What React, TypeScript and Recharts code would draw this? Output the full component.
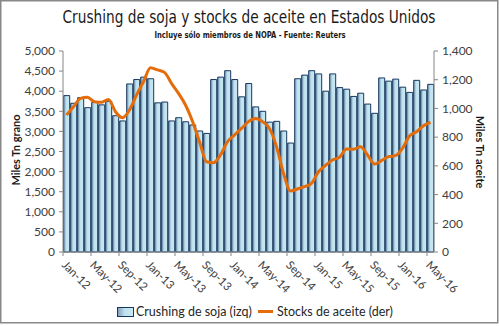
import React from 'react';
import { ComposedChart, Bar, Line, XAxis, YAxis } from 'recharts';

// monthly categories Jan-12 .. May-16
const months = [
  'Jan-12', 'Feb-12', 'Mar-12', 'Apr-12', 'May-12', 'Jun-12', 'Jul-12', 'Aug-12', 'Sep-12', 'Oct-12', 'Nov-12', 'Dec-12',
  'Jan-13', 'Feb-13', 'Mar-13', 'Apr-13', 'May-13', 'Jun-13', 'Jul-13', 'Aug-13', 'Sep-13', 'Oct-13', 'Nov-13', 'Dec-13',
  'Jan-14', 'Feb-14', 'Mar-14', 'Apr-14', 'May-14', 'Jun-14', 'Jul-14', 'Aug-14', 'Sep-14', 'Oct-14', 'Nov-14', 'Dec-14',
  'Jan-15', 'Feb-15', 'Mar-15', 'Apr-15', 'May-15', 'Jun-15', 'Jul-15', 'Aug-15', 'Sep-15', 'Oct-15', 'Nov-15', 'Dec-15',
  'Jan-16', 'Feb-16', 'Mar-16', 'Apr-16', 'May-16',
];

// crushing (left axis, miles Tn grano)
const crushing = [
  3890, 3700, 3840, 3590, 3720, 3660, 3750, 3390, 3260, 4180, 4290, 4350,
  4310, 3710, 3730, 3260, 3340, 3240, 3160, 3010, 2950, 4290, 4350, 4510,
  4290, 3860, 4190, 3610, 3500, 3230, 3250, 3010, 2710, 4310, 4400, 4510,
  4430, 4000, 4430, 4090, 4050, 3870, 3950, 3680, 3450, 4330, 4250, 4300,
  4100, 3970, 4270, 4030, 4170,
];

// oil stocks (right axis, miles Tn aceite)
const stocks = [
  954, 1012, 1070, 1077, 1047, 1043, 1063, 977, 935, 989, 1093, 1186,
  1284, 1268, 1251, 1175, 1105, 1024, 910, 768, 629, 622, 676, 768,
  815, 861, 908, 929, 908, 861, 734, 548, 425, 439, 455, 478,
  559, 603, 641, 660, 717, 715, 733, 676, 613, 636, 664, 671,
  722, 808, 838, 880, 903,
];

const leftTicks = [0, 500, 1000, 1500, 2000, 2500, 3000, 3500, 4000, 4500, 5000];
const rightTicks = [0, 200, 400, 600, 800, 1000, 1200, 1400];

const data = months.map((m, i) => ({ month: m, crushing: crushing[i], stocks: stocks[i] }));

const W = 499;
const H = 326;
const PLOT_BOTTOM = 252;
const HALF_BAND = 3.5;
const font = 'Lato, "Liberation Sans", sans-serif';
const narrow = '"DejaVu Sans Condensed", "Liberation Sans", sans-serif';

const fmt = (v: number) => v.toLocaleString('en-US');

function MonthTick({ x, payload }: any) {
  const bx = x - HALF_BAND;
  const tx = bx + 4;
  const ty = PLOT_BOTTOM + 8;
  return (
    <g>
      <line x1={bx} x2={bx} y1={PLOT_BOTTOM} y2={PLOT_BOTTOM + 4} stroke="#868686" />
      <text
        x={tx}
        y={ty}
        transform={`rotate(45, ${tx}, ${ty})`}
        textAnchor="start"
        dy="0.7em"
        fontSize={11.5}
        fontFamily={font}
        fill="#404040"
      >
        {payload.value}
      </text>
    </g>
  );
}

export default function App() {
  return (
    <div style={{ position: 'absolute', left: 0, top: 0, width: W, height: H, background: '#fff' }}>
      <svg width={W} height={H} style={{ position: 'absolute', left: 0, top: 0 }}>
        <rect x={0.75} y={0.75} width={W - 2} height={322} fill="none" stroke="#888" strokeWidth={1.5} />
        {/* condensed titles: horizontally squeezed like the original narrow face */}
        <g transform="translate(249,23) scale(0.87,1)">
          <text x={0} y={0} textAnchor="middle" fontFamily={narrow} fontSize={17.5} fill="#1a1a1a">
            Crushing de soja y stocks de aceite en Estados Unidos
          </text>
        </g>
        <g transform="translate(250,38) scale(0.8,1)">
          <text x={0} y={0} textAnchor="middle" fontFamily={narrow} fontSize={9.5} fontWeight="bold" fill="#1a1a1a">
            Incluye sólo miembros de NOPA - Fuente: Reuters
          </text>
        </g>
        <text transform="translate(20,150) rotate(-90)" textAnchor="middle" fontFamily={font} fontSize={11} fontWeight="bold" fill="#1a1a1a">
          Miles Tn grano
        </text>
        <text transform="translate(476,152) rotate(90)" textAnchor="middle" fontFamily={font} fontSize={11} fontWeight="bold" fill="#1a1a1a">
          Miles Tn aceite
        </text>
        {/* legend */}
        <defs>
          <linearGradient id="legBar" x1="0" y1="0" x2="1" y2="0">
            <stop offset="0%" stopColor="#7f9cbc" />
            <stop offset="45%" stopColor="#bfe3ee" />
            <stop offset="100%" stopColor="#c9e8f1" />
          </linearGradient>
        </defs>
        <rect x={117.5} y={307.5} width={16} height={9} fill="url(#legBar)" stroke="#17375e" />
        <text x={136} y={316} fontFamily={font} fontSize={12.5} fill="#262626">Crushing de soja (izq)</text>
        <line x1={258} x2={273} y1={311.5} y2={311.5} stroke="#e46c0a" strokeWidth={3} />
        <text x={277} y={316} fontFamily={font} fontSize={12.5} fill="#262626">Stocks de aceite (der)</text>
      </svg>
      <div style={{ position: 'absolute', left: 0, top: 0 }}>
        <ComposedChart
          width={W}
          height={H}
          data={data}
          margin={{ top: 51, right: 15, bottom: 29, left: 13 }}
          barCategoryGap="10%"
        >
          <defs>
            <linearGradient id="barFill" x1="0" y1="0" x2="1" y2="0">
              <stop offset="0%" stopColor="#7f9cbc" />
              <stop offset="45%" stopColor="#bfe3ee" />
              <stop offset="100%" stopColor="#c9e8f1" />
            </linearGradient>
          </defs>
          <XAxis
            dataKey="month"
            interval={3}
            height={45}
            tickLine={false}
            tick={<MonthTick />}
            axisLine={{ stroke: '#868686' }}
          />
          <YAxis
            yAxisId="left"
            width={50}
            domain={[0, 5000]}
            ticks={leftTicks}
            tickFormatter={fmt}
            tickSize={4}
            tickMargin={4}
            axisLine={{ stroke: '#868686' }}
            tickLine={{ stroke: '#868686' }}
            tick={{ fontSize: 12, fontFamily: font, fill: '#404040' }}
          />
          <YAxis
            yAxisId="right"
            orientation="right"
            width={50}
            domain={[0, 1400]}
            ticks={rightTicks}
            tickFormatter={fmt}
            tickSize={4}
            tickMargin={4}
            axisLine={{ stroke: '#868686' }}
            tickLine={{ stroke: '#868686' }}
            tick={{ fontSize: 12, fontFamily: font, fill: '#404040', textAnchor: 'start' }}
          />
          <Bar
            yAxisId="left"
            dataKey="crushing"
            fill="url(#barFill)"
            stroke="#17375e"
            strokeWidth={1}
            isAnimationActive={false}
          />
          <Line
            yAxisId="right"
            type="monotone"
            dataKey="stocks"
            stroke="#e46c0a"
            strokeWidth={3}
            dot={false}
            isAnimationActive={false}
          />
        </ComposedChart>
      </div>
    </div>
  );
}
